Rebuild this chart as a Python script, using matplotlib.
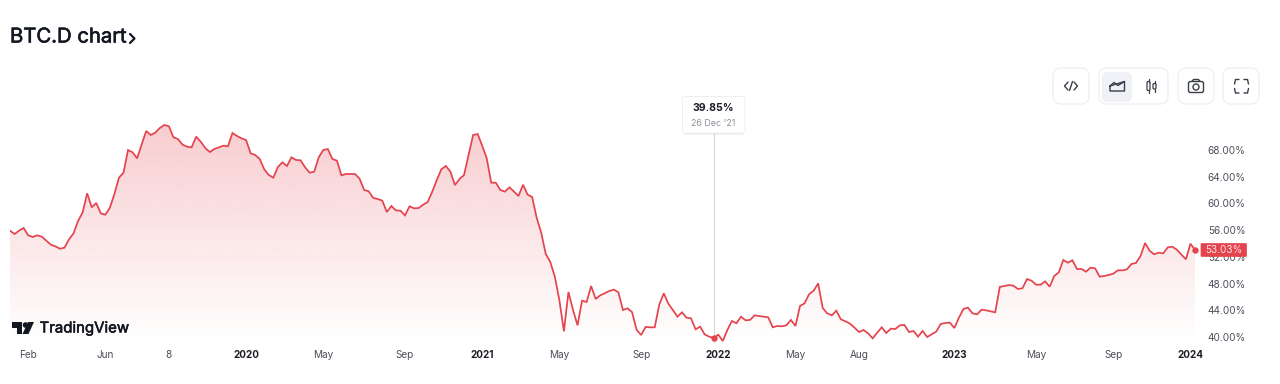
import numpy as np
import pandas as pd
import matplotlib
matplotlib.use("Agg")
import matplotlib.pyplot as plt
import matplotlib.patheffects as pe
from matplotlib.patches import FancyBboxPatch, Circle, Polygon, Rectangle

plt.rcParams['font.family'] = ['Inter', 'DejaVu Sans']

# weekly BTC dominance
btc_d = [
  55.92,55.42,55.92,56.32,55.22,54.97,55.22,55.02,54.42,53.82,53.57,53.22,53.37,54.62,55.52,57.37,
  58.66,61.51,59.41,60.06,58.51,58.31,59.36,61.41,63.85,64.60,67.99,67.64,66.75,68.84,70.84,70.24,
  70.59,71.29,71.74,71.54,69.89,69.64,68.79,68.49,68.39,69.99,69.24,68.29,67.69,68.14,68.39,68.64,
  68.54,70.54,70.09,69.74,69.49,67.49,67.25,66.65,65.10,64.25,63.85,65.45,66.15,65.60,66.90,66.50,
  66.45,65.40,64.60,64.75,66.90,67.99,68.14,66.65,66.40,64.20,64.40,64.40,64.40,63.70,62.01,61.81,
  60.81,60.66,60.41,58.71,59.61,58.96,58.91,58.21,59.56,59.26,59.31,
  59.81,60.21,61.76,63.50,65.10,65.60,64.75,62.75,63.65,64.25,67.25,70.24,70.39,68.64,66.75,63.10,
  63.10,62.01,61.76,62.41,61.76,61.11,62.80,61.31,60.96,57.86,55.62,52.43,51.23,49.03,45.54,40.85,
  46.74,44.04,41.75,45.44,45.24,47.63,45.69,46.24,46.54,46.89,47.09,46.69,44.04,44.29,43.74,41.10,
  40.30,41.50,41.45,41.45,44.84,46.54,44.99,44.04,43.04,43.69,42.89,42.79,41.15,41.55,40.40,40.05,
  39.85,40.35,39.40,41.05,42.40,42.05,43.04,42.50,42.55,43.24,43.14,43.04,42.94,41.45,41.65,41.60,
  41.75,42.55,41.65,44.64,45.04,46.39,46.94,48.03,44.34,43.54,43.24,43.94,42.64,
  42.35,42.00,41.40,40.75,41.05,40.55,39.80,40.65,41.45,40.60,41.25,41.20,41.75,41.80,40.75,40.90,
  40.05,40.90,40.00,40.40,40.80,41.95,42.10,42.15,41.35,42.89,44.19,44.39,43.54,43.39,44.09,43.99,
  43.84,43.69,47.49,47.63,47.78,47.68,47.19,47.29,48.68,48.43,47.83,47.83,48.33,47.53,49.13,49.68,
  51.53,51.13,51.48,50.18,50.18,49.78,50.38,50.28,49.03,49.13,49.28,49.48,49.98,49.98,50.13,50.93,
  51.08,52.13,54.07,52.92,52.38,52.62,52.52,53.42,53.52,53.07,52.33,51.63,53.97,53.03,
]
dates = pd.date_range(end='2024-01-07', periods=len(btc_d), freq='7D')

tick_dates = ['2019-02-03','2019-06-02','2019-09-08','2020-01-05','2020-05-03','2020-09-06',
              '2021-01-03','2021-05-02','2021-09-05','2022-01-02','2022-05-01','2022-08-07',
              '2023-01-01','2023-05-07','2023-09-03','2023-12-31']
tick_labels = ['Feb','Jun','8','2020','May','Sep','2021','May','Sep','2022','May','Aug','2023','May','Sep','2024']
y_ticks = [40, 44, 48, 52, 56, 60, 64, 68]
hover_date = '2021-12-26'
hover_value = 39.85
hover_label = "26 Dec '21"
last_value = btc_d[-1]

RED = '#e5434d'
W, H = 1280, 384

fig = plt.figure(figsize=(12.8, 3.84), dpi=100)

# chart area, placed by pixels
left, right, top, bottom = 10, 1195, 90, 343
ax = fig.add_axes([left/W, 1-bottom/H, (right-left)/W, (bottom-top)/H])
ax.patch.set_alpha(0)
for s in ax.spines.values():
  s.set_visible(False)

y_min = 40 - (bottom-337)/6.68
y_max = 40 + (337-top)/6.68

# gradient under the line
grad = np.zeros((256, 1, 4))
grad[:, 0, 0:3] = matplotlib.colors.to_rgb(RED)
grad[:, 0, 3] = np.linspace(0.27, 0.0, 256)
x0, x1 = matplotlib.dates.date2num(dates[0]), matplotlib.dates.date2num(dates[-1])
im = ax.imshow(grad, extent=[x0, x1, y_min, 72], aspect='auto', zorder=1)
poly = ax.fill_between(dates, btc_d, y_min, facecolor='none', edgecolor='none')
im.set_clip_path(poly.get_paths()[0], transform=ax.transData)

ax.plot(dates, btc_d, color=RED, lw=1.25, zorder=3, solid_joinstyle='miter')
ax.plot(pd.Timestamp(hover_date), hover_value, 'o', color=RED, ms=3.6, zorder=4, clip_on=False)
ax.plot(dates[-1], last_value, 'o', color=RED, ms=3.6, zorder=4, clip_on=False)
ax.vlines(pd.Timestamp(hover_date), y_min, 40 + (337-133)/6.68, color='#d6d7da', lw=0.8, zorder=2)

ax.set_xlim(x0, x1)
ax.set_ylim(y_min, y_max)
ax.set_xticks(pd.to_datetime(tick_dates))
ax.set_xticklabels(tick_labels, fontsize=7.2, color='#4c4f5a')
for lab in ax.get_xticklabels():
  if lab.get_text().isdigit() and len(lab.get_text()) == 4:
    lab.set_fontweight('bold')
    lab.set_color('#1c1e26')
ax.yaxis.tick_right()
ax.set_yticks(y_ticks)
ax.set_yticklabels(['%.2f%%' % v for v in y_ticks], fontsize=7.2, color='#4c4f5a')
ax.tick_params(axis='x', length=0, pad=4.8)
ax.tick_params(axis='y', length=0, pad=9.2)

# everything else sits on an overlay in pixel coordinates
ov = fig.add_axes([0, 0, 1, 1], zorder=5)
ov.set_xlim(0, W)
ov.set_ylim(H, 0)
ov.axis('off')
ov.patch.set_alpha(0)

def box(x0, y0, x1, y1, r=8, fc='white', ec='#eeeff2', lw=0.9, z=2):
  ov.add_patch(FancyBboxPatch((x0+r, y0+r), x1-x0-2*r, y1-y0-2*r,
               boxstyle='round,pad=%f,rounding_size=%f' % (r, r),
               fc=fc, ec=ec, lw=lw, zorder=z))

def line(xs, ys, lw=1.0, color='#3a3e49'):
  ov.plot(xs, ys, color=color, lw=lw, solid_capstyle='round', solid_joinstyle='round', zorder=4)

title = ov.text(10, 37.5, 'BTC.D chart', fontsize=14.6, color='#131722', va='center', ha='left')
title.set_path_effects([pe.withStroke(linewidth=0.45, foreground='#131722')])
line([130, 134.5, 130], [34, 38.5, 43], lw=1.6, color='#131722')

# toolbar
box(1053, 68, 1089, 104)
box(1099, 68, 1168, 104)
box(1178, 68, 1214, 104)
box(1223, 68, 1259, 104)
box(1102, 72, 1132, 102, r=6, fc='#f0f1f6', ec='none', lw=0, z=3)

line([1068, 1064.5, 1068], [82, 86, 90])
line([1074, 1077.5, 1074], [82, 86, 90])
line([1072.5, 1069.5], [81.5, 90.5])

line([1110, 1110, 1124.5, 1124.5, 1110], [86, 91, 91, 81.5, 86])
line([1110, 1114, 1118, 1124.5], [86, 82.5, 85.5, 81.5])

ov.add_patch(FancyBboxPatch((1147, 81.5), 3, 9, boxstyle='round,pad=0,rounding_size=1.2', fc='none', ec='#3a3e49', lw=0.9, zorder=4))
ov.add_patch(FancyBboxPatch((1153, 83.5), 3, 5.5, boxstyle='round,pad=0,rounding_size=1.2', fc='none', ec='#3a3e49', lw=0.9, zorder=4))
line([1148.5, 1148.5], [79, 81.5], lw=0.9)
line([1148.5, 1148.5], [90.5, 93], lw=0.9)
line([1154.5, 1154.5], [80.5, 83.5], lw=0.9)
line([1154.5, 1154.5], [89, 91.5], lw=0.9)

ov.add_patch(FancyBboxPatch((1188.5, 81.5), 15, 11, boxstyle='round,pad=0,rounding_size=2', fc='none', ec='#3a3e49', lw=1.0, zorder=4))
line([1192, 1193.5, 1198.5, 1200], [81.5, 79.5, 79.5, 81.5])
ov.add_patch(Circle((1196, 87), 3, fc='none', ec='#3a3e49', lw=1.0, zorder=4))

for cx, sx in [(1235, -1), (1248, 1)]:
  for cy, sy in [(79.5, -1), (93, 1)]:
    line([cx+sx*-4, cx+sx*-0.5, cx+sx*0.5], [cy, cy, cy+sy*-4.5])

# tooltip
ov.add_patch(Rectangle((684, 98), 59, 37, fc='#000000', alpha=0.05, ec='none', zorder=1))
box(682.5, 96.5, 745, 133, r=3, ec='#ececef', lw=0.6, z=2)
ov.text(713.5, 108, '%.2f%%' % hover_value, fontsize=7.6, fontweight='bold', color='#1c1e26', ha='center', va='center', zorder=4)
ov.text(713.5, 123, hover_label, fontsize=6.4, color='#8d9099', ha='center', va='center', zorder=4)

# last price label
box(1201, 243.5, 1246.5, 256.5, r=1, fc=RED, ec=RED, lw=0.5)
ov.text(1224, 250.2, '%.2f%%' % last_value, fontsize=7.2, color='#fbe3e4', ha='center', va='center', zorder=4)

# TradingView logo
ov.add_patch(Polygon([(11.5, 322), (22, 322), (22, 334), (17, 334), (17, 327.5), (11.5, 327.5)], fc='#131722', ec='none', zorder=4))
ov.add_patch(Circle((25.5, 325), 2.8, fc='#131722', ec='none', zorder=4))
ov.add_patch(Polygon([(28, 322), (34, 322), (28.5, 334), (22.5, 334)], fc='#131722', ec='none', zorder=4))
logo = ov.text(39.5, 328.5, 'TradingView', fontsize=10.8, color='#131722', ha='left', va='center', zorder=4)
logo.set_path_effects([pe.withStroke(linewidth=0.4, foreground='#131722')])

fig.savefig('out.png', dpi=100)
